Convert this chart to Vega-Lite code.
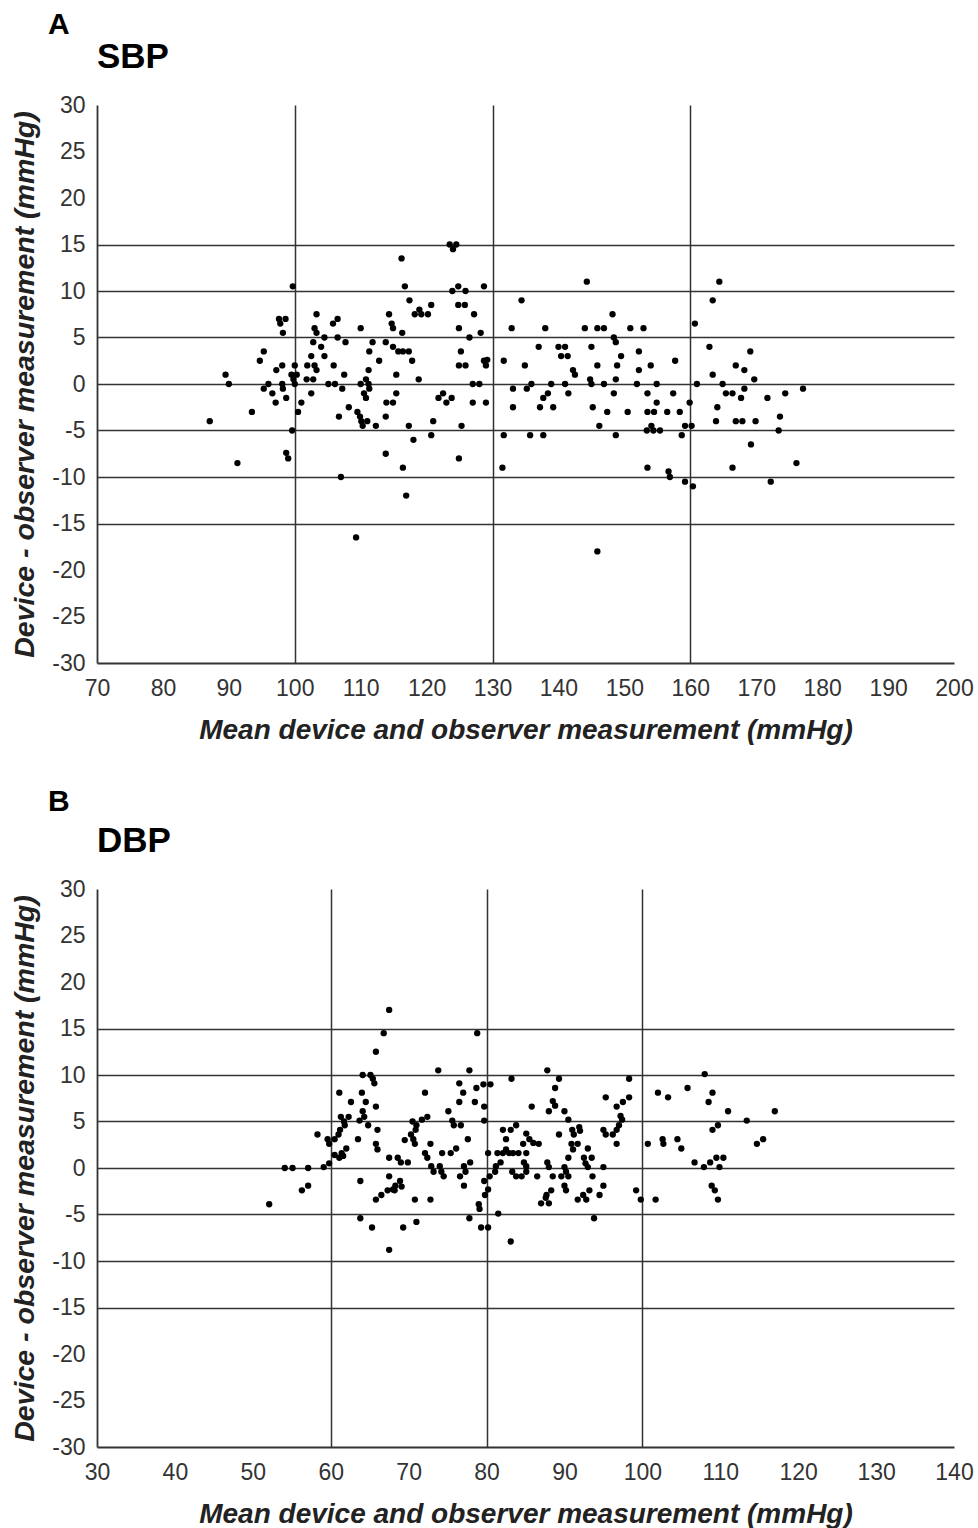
{
  "$schema": "https://vega.github.io/schema/vega-lite/v6.json",
  "padding": {"left": 10, "top": 10, "right": 0, "bottom": 0},
  "background": "white",
  "config": {
    "font": "Liberation Sans",
    "view": {"stroke": null},
    "axis": {
      "domainColor": "#333333",
      "domainWidth": 1.8,
      "gridColor": "#333333",
      "gridWidth": 1.5,
      "ticks": false,
      "tickSize": 0,
      "labelFont": "Liberation Sans",
      "labelFontSize": 23,
      "labelColor": "#333333",
      "labelExpr": "toString(datum.value)",
      "titleFont": "Liberation Sans",
      "titleFontSize": 28,
      "titleFontStyle": "italic",
      "titleFontWeight": "bold",
      "titleColor": "#222222"
    },
    "axisX": {"labelPadding": 14, "titlePadding": 16, "labelFlush": false, "labelOverlap": false},
    "axisY": {"labelPadding": 12, "titlePadding": 12, "labelOverlap": false, "titleFontSize": 28.5},
    "title": {"font": "Liberation Sans", "color": "#000000"}
  },
  "datasets": {
    "sbp": [
      {"x":123.5,"y":15},{"x":124.5,"y":15},{"x":124,"y":14.5},{"x":116.2,"y":13.5},{"x":99.7,"y":10.5},{"x":116.7,"y":10.5},
      {"x":123.9,"y":10},{"x":124.8,"y":10.5},{"x":125.9,"y":10},{"x":128.7,"y":10.5},{"x":117.4,"y":9},{"x":120.7,"y":8.5},
      {"x":118.9,"y":8},{"x":118.2,"y":7.5},{"x":119.2,"y":7.5},{"x":120.2,"y":7.5},{"x":124.8,"y":8.5},{"x":125.8,"y":8.5},
      {"x":127.2,"y":7.5},{"x":103.3,"y":7.5},{"x":97.6,"y":7},{"x":98.6,"y":7},{"x":97.8,"y":6.5},{"x":98.2,"y":5.5},
      {"x":106.5,"y":7},{"x":105.8,"y":6.5},{"x":103,"y":6},{"x":103.3,"y":5.5},{"x":114.3,"y":7.5},{"x":114.7,"y":6.5},
      {"x":114.9,"y":6},{"x":110,"y":6},{"x":116.3,"y":5.5},{"x":124.9,"y":6},{"x":128.2,"y":5.5},{"x":132.9,"y":6},
      {"x":104.5,"y":5},{"x":106.5,"y":5},{"x":107.7,"y":4.5},{"x":102.8,"y":4.5},{"x":104,"y":4},{"x":111.8,"y":4.5},
      {"x":111.3,"y":3.5},{"x":113.8,"y":4.5},{"x":114.9,"y":4},{"x":115.7,"y":3.5},{"x":116.4,"y":3.5},{"x":117.3,"y":3.5},
      {"x":126.5,"y":5},{"x":95.3,"y":3.5},{"x":94.7,"y":2.5},{"x":102.5,"y":3},{"x":104.5,"y":3},{"x":112.8,"y":2.5},
      {"x":117.8,"y":2.5},{"x":125.2,"y":3.5},{"x":128.7,"y":2.5},{"x":129.2,"y":2.6},{"x":129,"y":2},{"x":131.7,"y":2.5},
      {"x":98.1,"y":2},{"x":97.2,"y":1.5},{"x":100,"y":2},{"x":101.9,"y":2},{"x":103,"y":2},{"x":103.3,"y":1.5},
      {"x":105.9,"y":2},{"x":111.2,"y":1.5},{"x":124.9,"y":2},{"x":125.9,"y":2},{"x":89.5,"y":1},{"x":90,"y":0},
      {"x":99.5,"y":1},{"x":100.3,"y":1},{"x":99.8,"y":0.5},{"x":100,"y":0},{"x":101.8,"y":0.5},{"x":102.8,"y":0.5},
      {"x":107.5,"y":1},{"x":115.4,"y":1},{"x":118.8,"y":0.5},{"x":95.3,"y":-0.5},{"x":96,"y":0},{"x":98.1,"y":0},
      {"x":98.2,"y":-0.5},{"x":96.6,"y":-1},{"x":98.7,"y":-1.5},{"x":97.1,"y":-2},{"x":102.5,"y":-1},{"x":105.1,"y":0},
      {"x":106.1,"y":0},{"x":107.2,"y":-0.5},{"x":110,"y":0},{"x":110.8,"y":0.5},{"x":111.2,"y":0},{"x":111.3,"y":-0.5},
      {"x":110.5,"y":-1},{"x":110.8,"y":-1.5},{"x":115.4,"y":-1},{"x":113.9,"y":-2},{"x":114.9,"y":-2},{"x":101,"y":-2},
      {"x":100.5,"y":-3},{"x":93.5,"y":-3},{"x":87.1,"y":-4},{"x":108.2,"y":-2.5},{"x":106.7,"y":-3.5},{"x":109.5,"y":-3},
      {"x":109.9,"y":-3.5},{"x":110.1,"y":-4},{"x":110.3,"y":-4.5},{"x":111,"y":-4},{"x":112.3,"y":-4.5},{"x":113.8,"y":-3.5},
      {"x":117.3,"y":-4.5},{"x":121,"y":-4},{"x":121.8,"y":-1.5},{"x":122.5,"y":-1},{"x":123,"y":-2},{"x":123.8,"y":-1.5},
      {"x":127,"y":0},{"x":128,"y":0},{"x":127,"y":-2},{"x":129,"y":-2},{"x":125.3,"y":-4.5},{"x":133.1,"y":-0.5},
      {"x":133.1,"y":-2.5},{"x":99.6,"y":-5},{"x":118,"y":-6},{"x":120.7,"y":-5.5},{"x":113.8,"y":-7.5},{"x":98.7,"y":-7.4},
      {"x":99,"y":-8},{"x":91.3,"y":-8.5},{"x":116.4,"y":-9},{"x":124.9,"y":-8},{"x":131.5,"y":-9},{"x":107,"y":-10},
      {"x":116.9,"y":-12},{"x":109.3,"y":-16.5},{"x":131.7,"y":-5.5},
      {"x":134.4,"y":9},{"x":144.3,"y":11},{"x":164.4,"y":11},{"x":163.4,"y":9},{"x":160.7,"y":6.5},{"x":148.2,"y":7.5},
      {"x":138,"y":6},{"x":144,"y":6},{"x":145.9,"y":6},{"x":146.9,"y":6},{"x":150.9,"y":6},{"x":152.9,"y":6},
      {"x":148.4,"y":5},{"x":148.7,"y":4.5},{"x":137,"y":4},{"x":140,"y":4},{"x":141,"y":4},{"x":140.4,"y":3},
      {"x":141.4,"y":3},{"x":145,"y":4},{"x":149.5,"y":3},{"x":152.2,"y":3.5},{"x":162.9,"y":4},{"x":169.1,"y":3.5},
      {"x":134.9,"y":2},{"x":142.2,"y":1.5},{"x":142.5,"y":1},{"x":145.9,"y":2},{"x":148.9,"y":2},{"x":152.2,"y":1.5},
      {"x":154,"y":2},{"x":157.7,"y":2.5},{"x":166.9,"y":2},{"x":168.2,"y":1.5},{"x":163.4,"y":1},{"x":169.7,"y":0.5},
      {"x":144.8,"y":0.5},{"x":145,"y":0},{"x":148.7,"y":0.5},{"x":135.2,"y":-0.5},{"x":135.9,"y":0},{"x":138.9,"y":0},
      {"x":141,"y":0},{"x":146.9,"y":0},{"x":151.9,"y":0},{"x":154.9,"y":0},{"x":161,"y":0},{"x":164.9,"y":0},
      {"x":138.4,"y":-1},{"x":137.7,"y":-1.5},{"x":141.5,"y":-1},{"x":148.4,"y":-1},{"x":153.5,"y":-1},{"x":157.4,"y":-1},
      {"x":165.4,"y":-1},{"x":166.4,"y":-1},{"x":168.2,"y":-0.5},{"x":167.7,"y":-1.5},{"x":171.7,"y":-1.5},{"x":174.4,"y":-1},
      {"x":177.1,"y":-0.5},{"x":137.2,"y":-2.5},{"x":139.2,"y":-2.5},{"x":145.2,"y":-2.5},{"x":154.9,"y":-2},{"x":159.9,"y":-2},
      {"x":164.1,"y":-2.5},{"x":147.4,"y":-3},{"x":150.5,"y":-3},{"x":153.5,"y":-3},{"x":154.5,"y":-3},{"x":156.5,"y":-3},
      {"x":158.4,"y":-3},{"x":146.2,"y":-4.5},{"x":135.7,"y":-5.5},{"x":137.7,"y":-5.5},{"x":148.7,"y":-5.5},{"x":153.4,"y":-5},
      {"x":154.1,"y":-4.5},{"x":154.4,"y":-5},{"x":155.4,"y":-5},{"x":158.7,"y":-5.5},{"x":159.2,"y":-4.5},{"x":160.2,"y":-4.5},
      {"x":163.9,"y":-4},{"x":166.9,"y":-4},{"x":167.9,"y":-4},{"x":169.9,"y":-4},{"x":173.6,"y":-3.5},{"x":173.4,"y":-5},
      {"x":169.2,"y":-6.5},{"x":153.5,"y":-9},{"x":156.7,"y":-9.4},{"x":156.9,"y":-10},{"x":159.2,"y":-10.5},{"x":160.4,"y":-11},
      {"x":166.4,"y":-9},{"x":172.2,"y":-10.5},{"x":176.1,"y":-8.5},{"x":145.9,"y":-18}
    ],
    "dbp": [
      {"x":67.5,"y":17},{"x":66.8,"y":14.5},{"x":78.8,"y":14.5},{"x":65.8,"y":12.5},{"x":73.8,"y":10.5},{"x":77.8,"y":10.5},
      {"x":64.1,"y":10},{"x":65.1,"y":10},{"x":65.4,"y":9.6},{"x":65.6,"y":9.1},{"x":83.2,"y":9.6},{"x":76.5,"y":9.1},
      {"x":77,"y":8.1},{"x":76.5,"y":7.1},{"x":78.7,"y":8.6},{"x":79.6,"y":9},{"x":80.5,"y":9},{"x":78.5,"y":7.1},
      {"x":79.7,"y":6.6},{"x":61.1,"y":8.1},{"x":64,"y":8.1},{"x":72.1,"y":8.1},{"x":62.6,"y":7.1},{"x":64.5,"y":7.1},
      {"x":65.8,"y":6.6},{"x":64.1,"y":6.1},{"x":64.3,"y":5.5},{"x":63.7,"y":5.1},{"x":64.8,"y":4.6},{"x":61.3,"y":5.5},
      {"x":62.3,"y":5.5},{"x":61.7,"y":5},{"x":61.8,"y":4.6},{"x":61.2,"y":4.1},{"x":61,"y":3.6},{"x":58.3,"y":3.6},
      {"x":59.6,"y":3.1},{"x":59.8,"y":2.6},{"x":60.5,"y":3.1},{"x":62,"y":2.1},{"x":61.4,"y":1.6},{"x":60.5,"y":1.4},
      {"x":61.1,"y":1.1},{"x":61.6,"y":1.3},{"x":59.8,"y":0.5},{"x":59.1,"y":0.1},{"x":63.5,"y":3.1},{"x":66,"y":4.1},
      {"x":65.8,"y":2.6},{"x":66,"y":2},{"x":54.1,"y":0},{"x":55.1,"y":0},{"x":57.1,"y":0},{"x":56.3,"y":-2.4},
      {"x":57.1,"y":-1.9},{"x":52.1,"y":-3.9},{"x":63.8,"y":-1.4},{"x":63.8,"y":-5.4},{"x":65.3,"y":-6.4},{"x":67.5,"y":-8.8},
      {"x":69.3,"y":-6.4},{"x":71,"y":-5.8},{"x":65.8,"y":-3.4},{"x":66.5,"y":-2.9},{"x":67.3,"y":-2.4},{"x":68,"y":-2.3},
      {"x":68.3,"y":-1.9},{"x":68.9,"y":-1.4},{"x":69.1,"y":-2},{"x":67.5,"y":-0.9},{"x":68.2,"y":-2.4},{"x":67.5,"y":1.1},
      {"x":68.6,"y":1.1},{"x":69,"y":0.6},{"x":69.9,"y":0.6},{"x":70.8,"y":-3.4},{"x":72.8,"y":-3.4},{"x":69.5,"y":3},
      {"x":70.3,"y":3.6},{"x":70.6,"y":3.1},{"x":70.8,"y":2.6},{"x":70.5,"y":5},{"x":71,"y":4.6},{"x":70.9,"y":4.1},
      {"x":71.7,"y":5.2},{"x":72.4,"y":5.5},{"x":72.8,"y":2.6},{"x":72.1,"y":1.6},{"x":72.4,"y":1.1},{"x":72.9,"y":0.2},
      {"x":73.2,"y":-0.4},{"x":74,"y":0.2},{"x":74.2,"y":-0.4},{"x":74.5,"y":-0.9},{"x":75.1,"y":6.1},{"x":75.6,"y":5.1},
      {"x":75.8,"y":4.6},{"x":76.7,"y":4.6},{"x":77.6,"y":3.1},{"x":74.3,"y":1.6},{"x":75.4,"y":1.6},{"x":76.1,"y":2.1},
      {"x":77.9,"y":0.6},{"x":77.1,"y":0.2},{"x":77.3,"y":-0.4},{"x":76.6,"y":-0.9},{"x":77.1,"y":-1.9},{"x":77.8,"y":-5.4},
      {"x":79.7,"y":-1.4},{"x":80.2,"y":-2.3},{"x":79.8,"y":-2.9},{"x":79,"y":-3.9},{"x":79.1,"y":-4.4},{"x":79.3,"y":-6.4},
      {"x":80.2,"y":-6.4},{"x":81.5,"y":-4.9},{"x":83.1,"y":-7.9},{"x":79.7,"y":5.1},{"x":80.2,"y":1.6},{"x":81.4,"y":1.6},
      {"x":82.1,"y":1.6},{"x":82.5,"y":2},{"x":82.9,"y":1.6},{"x":83.4,"y":1.6},{"x":84.1,"y":1.6},{"x":80.4,"y":-0.9},
      {"x":81.1,"y":-0.4},{"x":81.2,"y":0.2},{"x":81.8,"y":0.6},{"x":82.5,"y":3.1},{"x":82.1,"y":4.1},{"x":83.1,"y":4.1},
      {"x":83.8,"y":4.6},{"x":83.3,"y":-0.4},{"x":83.8,"y":-0.9},
      {"x":87.8,"y":10.5},{"x":89.3,"y":9.6},{"x":98.3,"y":9.6},{"x":88.8,"y":8.6},{"x":88.5,"y":7.2},{"x":88.8,"y":6.7},
      {"x":88,"y":6.1},{"x":90,"y":6.1},{"x":85.8,"y":6.6},{"x":95.3,"y":7.6},{"x":98.3,"y":7.6},{"x":97.5,"y":7.1},
      {"x":96.7,"y":6.6},{"x":97.2,"y":5.6},{"x":97.4,"y":5.2},{"x":90.5,"y":5.2},{"x":85.1,"y":3.7},{"x":85.5,"y":3.1},
      {"x":86,"y":2.7},{"x":84.7,"y":2.6},{"x":86.7,"y":2.6},{"x":85.1,"y":1.6},{"x":84.8,"y":0.6},{"x":85.1,"y":0.2},
      {"x":84.5,"y":-0.9},{"x":85.1,"y":-0.4},{"x":86.5,"y":-0.9},{"x":87.8,"y":0.6},{"x":88,"y":0.1},{"x":89.3,"y":3.6},
      {"x":91,"y":4.1},{"x":91.2,"y":3.6},{"x":91.9,"y":4.4},{"x":92,"y":4},{"x":90.9,"y":2.6},{"x":91.1,"y":2},
      {"x":91.7,"y":2.6},{"x":90.5,"y":1.1},{"x":93,"y":2.1},{"x":92.5,"y":1.1},{"x":92.7,"y":0.5},{"x":93.5,"y":1.1},
      {"x":93,"y":0.1},{"x":90,"y":0.1},{"x":90.2,"y":-0.4},{"x":90.5,"y":-0.9},{"x":88.5,"y":-0.9},{"x":89.6,"y":-0.9},
      {"x":93.6,"y":-0.9},{"x":95,"y":0.1},{"x":95,"y":4.1},{"x":95.3,"y":3.6},{"x":96.2,"y":3.6},{"x":96.7,"y":4.1},
      {"x":97,"y":4.6},{"x":96.7,"y":2.6},{"x":88.3,"y":-2.4},{"x":87.7,"y":-2.9},{"x":87.6,"y":-3.2},{"x":88,"y":-3.8},
      {"x":87,"y":-3.8},{"x":90,"y":-1.9},{"x":90.2,"y":-2.4},{"x":91.7,"y":-3.4},{"x":92.4,"y":-2.9},{"x":92.8,"y":-3.4},
      {"x":93.2,"y":-2.4},{"x":94.5,"y":-2.9},{"x":95,"y":-1.9},{"x":93.8,"y":-5.4},{"x":99.2,"y":-2.4},{"x":99.8,"y":-3.4},
      {"x":101.7,"y":-3.4},{"x":100.7,"y":2.6},{"x":102,"y":8.1},{"x":103.3,"y":7.6},{"x":105.8,"y":8.6},{"x":108,"y":10.1},
      {"x":109,"y":8.1},{"x":108.5,"y":7.1},{"x":111,"y":6.1},{"x":113.4,"y":5.1},{"x":117,"y":6.1},{"x":109.7,"y":4.6},
      {"x":109,"y":4.1},{"x":102.6,"y":3.1},{"x":102.7,"y":2.6},{"x":104.5,"y":3.1},{"x":105,"y":2.1},{"x":106.7,"y":0.6},
      {"x":107.9,"y":0.1},{"x":108.7,"y":0.6},{"x":109.5,"y":1.1},{"x":110.4,"y":1.1},{"x":109.9,"y":0.1},{"x":114.7,"y":2.6},
      {"x":115.5,"y":3.1},{"x":108.9,"y":-1.9},{"x":109.3,"y":-2.4},{"x":109.7,"y":-3.4}
    ]
  },
  "spacing": 43,
  "vconcat": [
    {
      "title": {"text": "A", "anchor": "start", "frame": "group", "fontSize": 30, "fontWeight": "bold", "dx": -49, "offset": 0},
      "vconcat": [
        {
          "width": 857,
          "height": 558,
          "title": {"text": "SBP", "anchor": "start", "frame": "group", "fontSize": 35, "fontWeight": "bold", "offset": 19},
          "data": {"name": "sbp"},
          "mark": {"type": "circle", "size": 40, "color": "#000000", "opacity": 1},
          "encoding": {
            "x": {
              "field": "x", "type": "quantitative",
              "scale": {"domain": [70, 200], "nice": false, "zero": false},
              "axis": {
                "title": "Mean device and observer measurement (mmHg)",
                "values": [70, 80, 90, 100, 110, 120, 130, 140, 150, 160, 170, 180, 190, 200],
                "gridOpacity": {"condition": {"test": "datum.value == 100 || datum.value == 130 || datum.value == 160", "value": 1}, "value": 0}
              }
            },
            "y": {
              "field": "y", "type": "quantitative",
              "scale": {"domain": [-30, 30], "nice": false},
              "axis": {
                "title": "Device - observer measurement (mmHg)",
                "values": [-30, -25, -20, -15, -10, -5, 0, 5, 10, 15, 20, 25, 30],
                "gridOpacity": {"condition": {"test": "abs(datum.value) <= 15", "value": 1}, "value": 0}
              }
            }
          }
        }
      ]
    },
    {
      "title": {"text": "B", "anchor": "start", "frame": "group", "fontSize": 30, "fontWeight": "bold", "dx": -49, "offset": 7},
      "vconcat": [
        {
          "width": 857,
          "height": 558,
          "title": {"text": "DBP", "anchor": "start", "frame": "group", "fontSize": 35, "fontWeight": "bold", "offset": 19},
          "data": {"name": "dbp"},
          "mark": {"type": "circle", "size": 40, "color": "#000000", "opacity": 1},
          "encoding": {
            "x": {
              "field": "x", "type": "quantitative",
              "scale": {"domain": [30, 140], "nice": false, "zero": false},
              "axis": {
                "title": "Mean device and observer measurement (mmHg)",
                "values": [30, 40, 50, 60, 70, 80, 90, 100, 110, 120, 130, 140],
                "gridOpacity": {"condition": {"test": "datum.value == 60 || datum.value == 80 || datum.value == 100", "value": 1}, "value": 0}
              }
            },
            "y": {
              "field": "y", "type": "quantitative",
              "scale": {"domain": [-30, 30], "nice": false},
              "axis": {
                "title": "Device - observer measurement (mmHg)",
                "values": [-30, -25, -20, -15, -10, -5, 0, 5, 10, 15, 20, 25, 30],
                "gridOpacity": {"condition": {"test": "abs(datum.value) <= 15", "value": 1}, "value": 0}
              }
            }
          }
        }
      ]
    }
  ]
}
